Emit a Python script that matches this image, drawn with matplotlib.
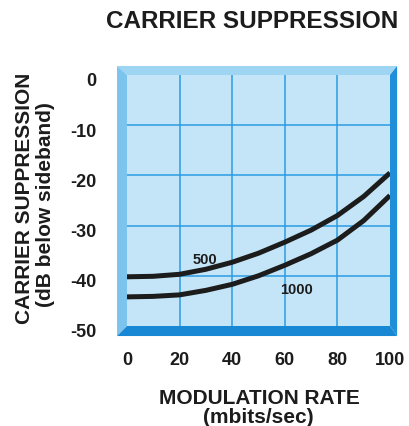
import numpy as np
import matplotlib

matplotlib.use("Agg")
import matplotlib.pyplot as plt
import matplotlib.transforms as mtransforms
from matplotlib.patches import Polygon

plt.rcParams["font.family"] = ["Liberation Sans", "DejaVu Sans"]
plt.rcParams["font.weight"] = "bold"

# curve values
rate = [0, 10, 20, 30, 40, 50, 60, 70, 80, 90, 100]
supp_500 = [-40.2, -40.1, -39.7, -38.7, -37.3, -35.5, -33.3, -30.9, -28.0, -24.2, -19.5]
supp_1000 = [-44.2, -44.1, -43.8, -42.9, -41.7, -40.0, -37.9, -35.6, -32.9, -29.0, -24.0]

x_ticks = [0, 20, 40, 60, 80, 100]
y_ticks = [0, -10, -20, -30, -40, -50]

FACE = "#c4e5f8"
GRID = "#2b9be2"
INK = "#1c1c1c"

fig = plt.figure(figsize=(4.10, 4.27), dpi=100)
ax = fig.add_axes([127 / 410, 1 - 327 / 427, 263 / 410, 251 / 427])
ax.set_facecolor(FACE)
ax.set_xlim(0, 100)
ax.set_ylim(-50, 0)

for x in x_ticks[1:-1]:
    ax.axvline(x, color=GRID, lw=1.1, zorder=1)
for y in y_ticks[1:-1]:
    ax.axhline(y, color=GRID, lw=1.1, zorder=1)

ax.plot(rate, supp_500, color=INK, lw=3.6, solid_capstyle="butt", zorder=3)
ax.plot(rate, supp_1000, color=INK, lw=3.6, solid_capstyle="butt", zorder=3)
ax.text(29.7, -36.7, "500", fontsize=10.5, fontweight="bold", color=INK,
        ha="center", va="center", zorder=4)
ax.text(64.6, -42.6, "1000", fontsize=10.5, fontweight="bold", color=INK,
        ha="center", va="center", zorder=4)

# bevelled frame around the plot area
l, r, t, b = 0.038, 0.027, 0.036, 0.040
bevels = [
    ([(0, 1), (1, 1), (1 + r, 1 + t), (-l, 1 + t)], "#9dd5f3"),   # top
    ([(0, 0), (0, 1), (-l, 1 + t), (-l, -b)], "#7cc4ee"),         # left
    ([(1, 0), (1, 1), (1 + r, 1 + t), (1 + r, -b)], "#1f8fd9"),   # right
    ([(0, 0), (1, 0), (1 + r, -b), (-l, -b)], "#1887d4"),         # bottom
]
for pts, col in bevels:
    ax.add_patch(Polygon(pts, closed=True, transform=ax.transAxes,
                         facecolor=col, edgecolor="none", clip_on=False, zorder=5))

for s in ax.spines.values():
    s.set_visible(False)

ax.set_xticks(x_ticks)
ax.set_xticklabels([str(v) for v in x_ticks])
ax.set_yticks(y_ticks)
ax.set_yticklabels([str(v) for v in y_ticks])
ax.tick_params(length=0, labelsize=13, colors=INK)
ax.tick_params(axis="x", pad=18)
ax.tick_params(axis="y", pad=22)
shift = mtransforms.ScaledTranslation(0, -4 / 100, fig.dpi_scale_trans)
for lab in ax.get_yticklabels():
    lab.set_transform(lab.get_transform() + shift)
for lab in ax.get_xticklabels() + ax.get_yticklabels():
    lab.set_fontweight("bold")

fig.text(252 / 410, 1 - 21 / 427, "CARRIER SUPPRESSION", fontsize=17.5,
         fontweight="bold", color=INK, ha="center", va="center")
fig.text(259 / 410, 1 - 399 / 427, "MODULATION RATE", fontsize=15,
         fontweight="bold", color=INK, ha="center", va="center")
fig.text(258 / 410, 1 - 418 / 427, "(mbits/sec)", fontsize=15,
         fontweight="bold", color=INK, ha="center", va="center")
fig.text(25 / 410, 1 - 198 / 427, "CARRIER SUPPRESSION", fontsize=15,
         fontweight="bold", color=INK, ha="center", va="center", rotation=90)
fig.text(46 / 410, 1 - 205 / 427, "(dB below sideband)", fontsize=15,
         fontweight="bold", color=INK, ha="center", va="center", rotation=90)

fig.savefig("out.png", dpi=100)
